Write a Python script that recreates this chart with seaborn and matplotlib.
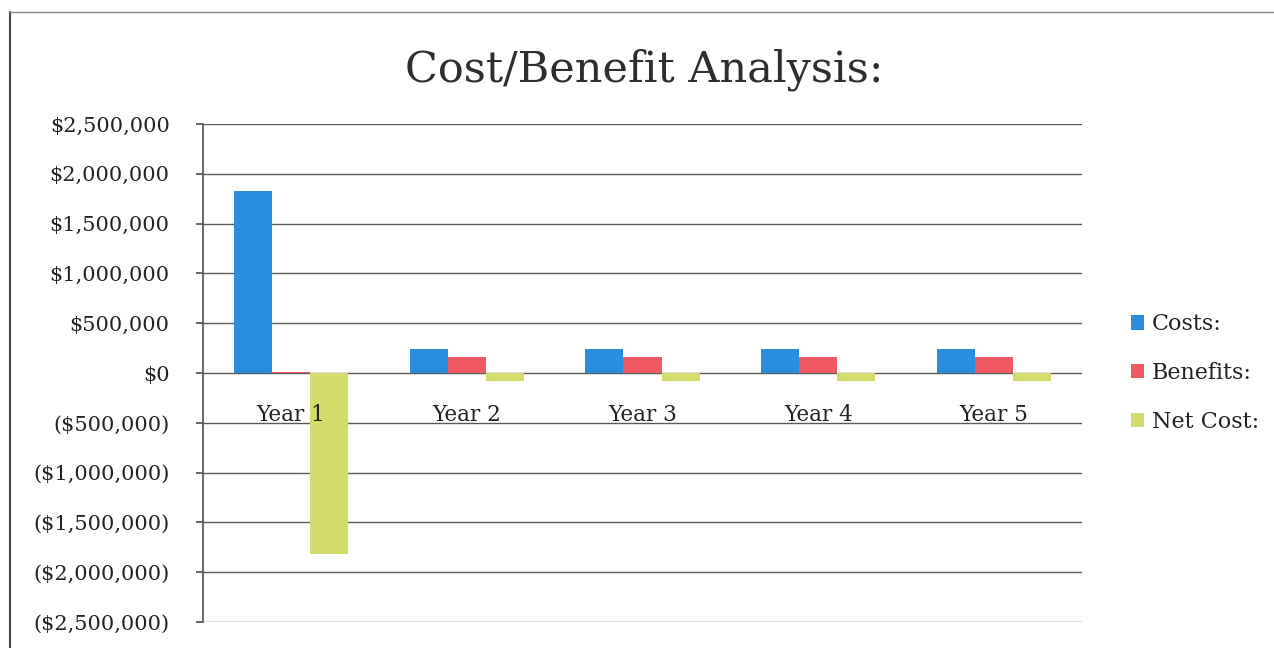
import matplotlib
matplotlib.use("Agg")
import matplotlib.pyplot as plt
import matplotlib.ticker as mticker
import seaborn as sns
import pandas as pd

# ---- data ----
years = ["Year 1", "Year 2", "Year 3", "Year 4", "Year 5"]
costs = [1830000, 242000, 242000, 242000, 242000]
benefits = [12000, 160000, 160000, 160000, 160000]
net_cost = [-1818000, -82000, -82000, -82000, -82000]
series_names = ["Costs:", "Benefits:", "Net Cost:"]
title = "Cost/Benefit Analysis:"

df = pd.DataFrame({
    "Year": years * 3,
    "Series": [series_names[0]] * 5 + [series_names[1]] * 5 + [series_names[2]] * 5,
    "Value": costs + benefits + net_cost,
})

palette = {"Costs:": "#2a8ede", "Benefits:": "#f0595f", "Net Cost:": "#d3db6b"}

sns.set_theme(style="white")
plt.rcParams["font.family"] = ["DejaVu Serif"]

fig = plt.figure(figsize=(12.74, 6.48), dpi=100)
ax = fig.add_axes([203 / 1274, 1 - 622 / 648, (1082 - 203) / 1274, (622 - 124) / 648])

sns.barplot(data=df, x="Year", y="Value", hue="Series", hue_order=series_names,
            palette=palette, width=0.65, gap=0, saturation=1, ax=ax, legend=True,
            edgecolor="none")

ax.set_ylim(-2500000, 2500000)
ax.set_xlim(-0.5, 4.5)
ax.yaxis.set_major_locator(mticker.MultipleLocator(500000))


def fmt(v, pos):
    v = int(round(v))
    if v < 0:
        return "(${:,})".format(-v)
    return "${:,}".format(v)


ax.yaxis.set_major_formatter(mticker.FuncFormatter(fmt))
ax.grid(axis="y", color="#5a5a5a", linewidth=1.0)
ax.set_axisbelow(True)
ax.xaxis.set_zorder(5)
ax.set_xlabel("")
ax.set_ylabel("")

for s in ["top", "right"]:
    ax.spines[s].set_visible(False)
ax.spines["left"].set_color("#555555")
ax.spines["bottom"].set_position(("data", 0))
ax.spines["bottom"].set_visible(False)

ax.tick_params(axis="y", left=True, length=5, color="#555555", pad=19,
               labelsize=15, labelcolor="#222222")
ax.tick_params(axis="x", bottom=False, length=0, pad=22, labelsize=15.5,
               labelcolor="#222222")

leg = ax.legend(loc="center left", bbox_to_anchor=(1.033, 0.5), frameon=False,
                fontsize=16, handlelength=0.6, handleheight=0.6, handletextpad=0.35,
                labelspacing=1.2)
for t in leg.get_texts():
    t.set_color("#222222")

fig.text(0.506, 0.893, title, ha="center", va="center", fontsize=31,
         fontweight="normal", color="#2e2e2e")

# outer frame lines (left and top)
fig.add_artist(plt.Line2D([10 / 1274, 10 / 1274], [0, 1 - 12 / 648],
                          transform=fig.transFigure, color="#444444", lw=1.5))
fig.add_artist(plt.Line2D([10 / 1274, 1], [1 - 12 / 648, 1 - 12 / 648],
                          transform=fig.transFigure, color="#888888", lw=1.0))

fig.savefig("out.png", dpi=100, facecolor="white")
